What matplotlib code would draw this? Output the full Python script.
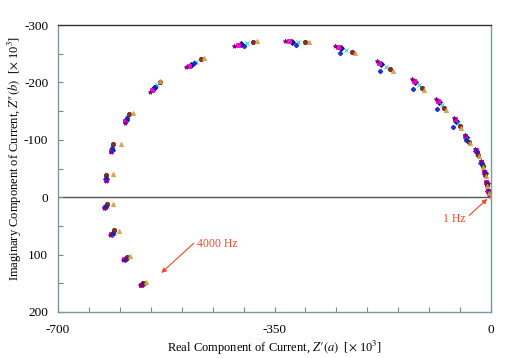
import matplotlib
matplotlib.use("Agg")
import matplotlib.pyplot as plt
from matplotlib.ticker import FixedLocator, FixedFormatter

plt.rcParams["font.family"] = ["Liberation Serif", "DejaVu Serif"]
plt.rcParams["mathtext.fontset"] = "stix"

# Z' (real) and Z'' (imaginary) per sample, 23 frequencies from 1 Hz to 4000 Hz
navy_x = [-1.1, -4.2, -7.2, -10.3, -15.4, -23.7, -40.0, -56.4, -83.8, -122.3, -177.1, -242.7,
          -321.4, -404.3, -484.4, -545.2, -590.0, -613.4, -623.0, -623.3, -612.3, -591.3, -564.3]
navy_y = [-4.4, -10.6, -24.8, -43.0, -60.1, -80.4, -104.7, -133.0, -165.2, -200.2, -231.9, -259.5,
          -271.2, -266.1, -231.0, -189.7, -134.8, -83.0, -31.4, 16.6, 63.6, 107.6, 151.6]

pink_x = [-1.3, -4.4, -7.4, -10.6, -15.9, -24.6, -41.3, -58.1, -86.1, -125.2, -180.9, -247.4,
          -326.9, -409.6, -488.7, -547.9, -591.2, -613.9, -623.1, -624.8, -613.8, -592.8, -565.8]
pink_y = [-4.9, -11.3, -25.8, -44.2, -61.5, -82.2, -106.9, -135.4, -167.9, -203.0, -234.3, -261.3,
          -271.5, -265.0, -228.5, -186.7, -132.0, -80.6, -29.4, 17.3, 64.3, 108.3, 152.3]

tan_x = [-0.4, -3.1, -6.2, -8.8, -12.9, -19.4, -34.0, -48.2, -73.0, -108.5, -158.7, -220.4,
         -295.0, -378.7, -464.0, -535.0, -578.0, -598.0, -611.0, -611.0, -601.0, -583.0, -557.0]
tan_y = [-2.1, -7.2, -20.1, -37.2, -53.4, -71.9, -94.3, -121.2, -152.2, -187.0, -220.5, -250.6,
         -269.9, -271.4, -243.0, -202.0, -146.0, -93.0, -40.0, 12.0, 59.0, 103.0, 147.0]

cyan_x = [-0.85, -3.8, -6.8, -9.7, -14.5, -22.1, -37.8, -53.3, -79.8, -117.1, -170.2, -234.4,
          -311.5, -394.7, -476.8, -540.3, -587.8, -612.5, -623.0, -620.4, -609.4, -588.4, -561.4]
cyan_y = [-3.5, -9.3, -23.0, -40.8, -57.6, -77.2, -100.8, -128.6, -160.3, -195.3, -227.6, -256.2,
          -270.7, -268.1, -235.5, -194.9, -139.8, -87.5, -35.0, 15.3, 62.3, 106.3, 150.3]

purple_x = [-1.4, -4.6, -7.6, -10.9, -16.5, -25.5, -42.5, -59.8, -88.3, -128.1, -184.7, -252.0,
            -332.4, -414.9, -492.9, -550.6, -592.4, -614.4, -623.1, -626.4, -615.4, -594.4, -567.4]
purple_y = [-5.3, -12.0, -26.7, -45.4, -62.9, -84.0, -109.1, -137.9, -170.6, -205.7, -236.7, -263.2,
            -271.8, -263.9, -226.0, -183.8, -129.3, -78.1, -27.4, 18.0, 65.0, 109.0, 153.0]

brown_x = [-0.55, -3.3, -6.4, -9.1, -13.4, -20.3, -35.3, -49.9, -75.3, -111.4, -162.5, -225.1,
           -300.5, -384.0, -468.3, -534.8, -585.4, -611.5, -622.9, -621.0, -609.0, -589.0, -562.0]
brown_y = [-2.6, -7.9, -21.1, -38.4, -54.8, -73.7, -96.5, -123.7, -154.9, -189.8, -222.9, -252.5,
           -270.2, -270.3, -240.5, -200.8, -145.3, -92.4, -39.0, 12.0, 58.0, 104.0, 150.0]

blue_x = [-1.0, -4.0, -7.0, -9.9, -14.9, -22.8, -40.7, -60.7, -87.5, -125.4, -179.2, -244.1,
          -316.0, -399.0, -480.2, -542.5, -588.8, -612.9, -623.0, -621.7, -610.7, -589.7, -562.7]
blue_y = [-3.9, -9.9, -23.8, -41.8, -58.7, -78.6, -99.6, -121.5, -153.5, -188.5, -220.5, -250.6,
          -266.0, -264.0, -233.5, -192.6, -137.6, -85.5, -33.4, 15.9, 62.9, 106.9, 150.9]

x_ticks = [-700, -650, -600, -550, -500, -450, -400, -350, -300, -250, -200, -150, -100, -50, 0]
x_labels = ["-700", "", "", "", "", "", "", "-350", "", "", "", "", "", "", "0"]
y_ticks = [-300, -250, -200, -150, -100, -50, 0, 50, 100, 150, 200]
y_labels = ["-300", "", "-200", "", "-100", "", "0", "", "100", "", "200"]

series = [
    (navy_x, navy_y, "#000080", "D"),
    (pink_x, pink_y, "#ff00cc", "s"),
    (cyan_x, cyan_y, "#20c0c0", "x"),
    (purple_x, purple_y, "#800080", "*"),
    (blue_x, blue_y, "#1020d0", "P"),
    (brown_x, brown_y, "#702010", "o"),
    (tan_x, tan_y, "#d0a050", "^"),
]

fig = plt.figure(figsize=(5.23, 3.58), dpi=100)
ax = fig.add_axes([58 / 523, 46 / 358, 433 / 523, 287 / 358])

for xs, ys, c, m in series:
    ax.plot(xs, ys, linestyle="none", marker=m, markersize=3.0, color=c,
            markeredgecolor=c, markeredgewidth=0.7, alpha=0.9)

ax.axhline(0, color="#555555", linewidth=1.0, zorder=0)

ax.set_xlim(-700, 0)
ax.set_ylim(200, -300)
ax.xaxis.set_major_locator(FixedLocator(x_ticks))
ax.xaxis.set_major_formatter(FixedFormatter(x_labels))
ax.yaxis.set_major_locator(FixedLocator(y_ticks))
ax.yaxis.set_major_formatter(FixedFormatter(y_labels))
ax.tick_params(direction="in", length=3.5, width=0.8, color="#6f8f8f", labelsize=9.5)
ax.tick_params(axis="x", pad=8.5)
ax.tick_params(axis="y", pad=7)

for side in ["left", "right", "bottom"]:
    ax.spines[side].set_color("#7a9a9a")
    ax.spines[side].set_linewidth(1.0)
ax.spines["top"].set_color("#333333")
ax.spines["top"].set_linewidth(1.0)

ax.set_xlabel("Real Component of Current, $Z\u2032(a)$  [$\\times$ 10$^3$]", fontsize=9)
ax.set_ylabel("Imaginary Component of Current, $Z\u2033(b)$  [$\\times$ 10$^3$]", fontsize=9)
ax.xaxis.set_label_coords(0.5, -0.093)
ax.yaxis.set_label_coords(-0.078, 0.535)

red = "#f04a2a"
ax.annotate("4000 Hz", xy=(-533, 132), xytext=(-476, 82), color=red, fontsize=8.5,
            ha="left", va="center",
            arrowprops=dict(arrowstyle="-|>", color=red, lw=0.8, mutation_scale=7,
                            shrinkA=0, shrinkB=0, relpos=(0, 0.8)))
ax.annotate("1 Hz", xy=(-6, 3), xytext=(-59, 38), color=red, fontsize=8.5,
            ha="center", va="center",
            arrowprops=dict(arrowstyle="-|>", color=red, lw=0.8, mutation_scale=7,
                            shrinkA=0, shrinkB=0, relpos=(1.15, 0.8)))

fig.savefig("out.png", dpi=100)
